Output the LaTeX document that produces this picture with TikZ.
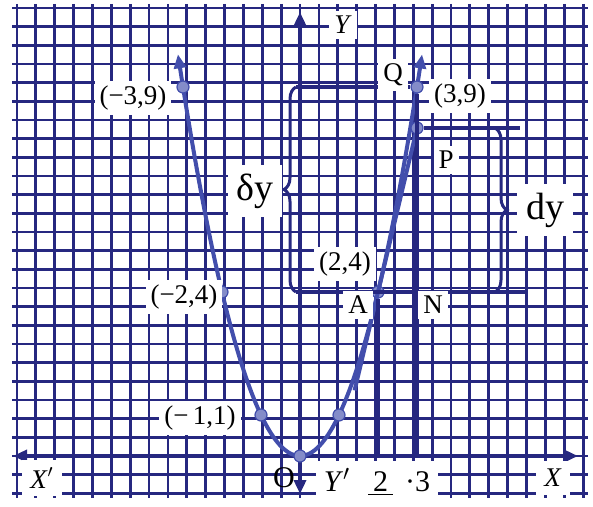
\documentclass[tikz,border=0pt]{standalone}
\usepackage{fontspec}
\setmainfont{Liberation Serif}
\usepackage{tikz}
\usetikzlibrary{arrows.meta, decorations.pathreplacing}
\definecolor{tinta}{RGB}{38,40,128}
\definecolor{trazo}{RGB}{66,78,172}
\tikzstyle{rejilla} = [draw=tinta, line width=1.4pt]
\tikzstyle{guia} = [draw=tinta, line width=1.7pt]
\tikzstyle{eje} = [draw=tinta, line width=1.7pt, {Triangle[length=7pt,width=6pt]}-{Triangle[length=7pt,width=6pt]}]
\tikzstyle{curva} = [draw=trazo, line width=2pt, {Triangle[length=7pt,width=6pt]}-{Triangle[length=7pt,width=6pt]}]
\tikzstyle{tangente} = [draw=trazo, line width=2pt]
\tikzstyle{punto} = [circle, fill=trazo!65, draw=trazo, line width=0.6pt, inner sep=0pt, minimum size=6pt]
\tikzstyle{etiqueta} = [fill=white, inner sep=2.5pt, align=center, font=\fontsize{13.5}{15}\selectfont]
\tikzstyle{grande} = [etiqueta, font=\fontsize{19}{21}\selectfont, inner sep=4.5pt]
\tikzstyle{llave} = [draw=tinta, line width=1.5pt, decorate, decoration={brace, amplitude=6pt}]

\begin{document}
\begin{tikzpicture}[x=0.5pt, y=-0.5pt]
    \useasboundingbox (0,0) rectangle (593,507);
    % papel cuadriculado
    \foreach \i in {0,...,30}
        \draw [rejilla] ({17+18.87*\i},4) -- ({17+18.87*\i},498);
    \foreach \j in {0,...,26}
        \draw [rejilla] (12,{8+18.67*\j}) -- (588,{8+18.67*\j});

    % ejes
    \coordinate (xizq) at (13,456);
    \coordinate (xder) at (578,456);
    \coordinate (yarr) at (300,12);
    \coordinate (yab) at (300,494);
    \draw [eje] (xizq) -- (xder);
    \draw [eje] (yab) -- (yarr);

    % parabola y = x^2
    \begin{scope}[shift={(300,456)}, x=19.5pt, y=20.5pt]
        \draw [curva] plot [domain=-3.13:3.13, samples=61, smooth] (\x,{\x*\x});
        \node (m3) [punto] at (-3,9) {};
        \node (m2) [punto] at (-2,4) {};
        \node (m1) [punto] at (-1,1) {};
        \node (o) [punto] at (0,0) {};
        \node (p1) [punto] at (1,1) {};
        \node (a) [punto] at (2,4) {};
        \node (q) [punto] at (3,9) {};
        \node (p) [punto] at (3,8) {};
        \coordinate (n) at (3,0);
        \coordinate (pieA) at (2,0);
        \coordinate (t0) at (1.4,1.6);
    \end{scope}
    \draw [tangente] (t0) -- (p);

    % incrementos
    \coordinate (izqQ) at (296,87);
    \coordinate (izqA) at (296,292);
    \coordinate (finA) at (525,292);
    \coordinate (derP) at (495,128);
    \coordinate (derA) at (495,292);
    \coordinate (finP) at (520,128);
    \draw [guia] (q) -- (n);
    \draw [guia] (a) -- (pieA);
    \draw [guia] (izqQ) -- (q);
    \draw [guia] (izqA) -- (finA);
    \draw [guia] (p) -- (finP);
    \draw [llave] (izqA) -- (izqQ);
    \draw [llave] (derP) -- (derA);

    % etiquetas
    \node (lm3) [etiqueta] at (133,98) {(−3,9)};
    \node (lm2) [etiqueta] at (184,297) {(−2,4)};
    \node (lm1) [etiqueta] at (200,418) {(−\,1,1)};
    \node (la4) [etiqueta] at (345,264) {(2,4)};
    \node (lq9) [etiqueta] at (460,96) {(3,9)};
    \node (lq) [etiqueta] at (393,75) {Q};
    \node (lp) [etiqueta] at (446,160) {P};
    \node (la) [etiqueta] at (358,305) {A};
    \node (ln) [etiqueta] at (433,305) {N};
    \node (lo) [etiqueta, fill=none, font=\fontsize{15}{17}\selectfont] at (284,478) {O};
    \node (ldy) [grande] at (255,191) {δy};
    \node (lddy) [grande] at (545,210) {dy};
    \node (lx1) [etiqueta, inner sep=4pt] at (42,478) {\textit{X}$'$};
    \node (lx) [etiqueta, inner sep=4pt] at (553,478) {\textit{X}};
    \node (ly) [etiqueta] at (343,25) {\textit{Y}};
    \node (ly1) [etiqueta, inner sep=4pt, font=\fontsize{15}{17}\selectfont] at (377,482) {\textit{Y}$'$\hspace{9pt}\underline{\,2\,}\hspace{6pt}·3};
\end{tikzpicture}
\end{document}
